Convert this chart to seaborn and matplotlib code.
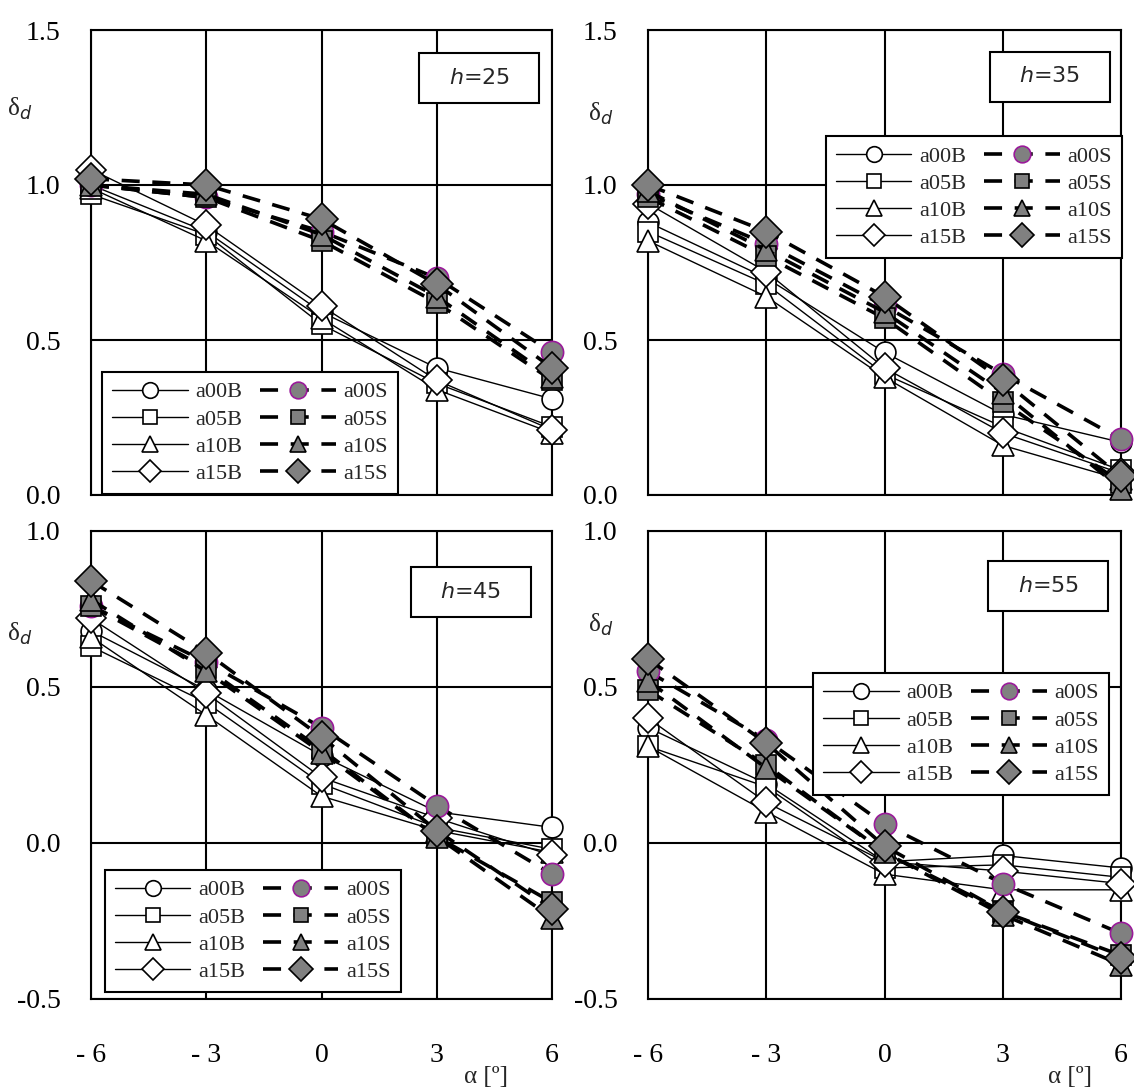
import matplotlib
matplotlib.use("Agg")
import matplotlib.pyplot as plt
from matplotlib.patches import Rectangle
from matplotlib.ticker import FixedLocator, FixedFormatter
import seaborn as sns

# ---------------- data ----------------
ALPHA = [-6, -3, 0, 3, 6]
SERIES = ["a00B", "a05B", "a10B", "a15B", "a00S", "a05S", "a10S", "a15S"]

h25_a00B = [1.00, 0.85, 0.59, 0.41, 0.31]
h25_a05B = [0.97, 0.84, 0.55, 0.36, 0.22]
h25_a10B = [0.99, 0.82, 0.57, 0.34, 0.20]
h25_a15B = [1.05, 0.87, 0.61, 0.37, 0.21]
h25_a00S = [1.00, 0.96, 0.85, 0.70, 0.46]
h25_a05S = [1.00, 0.96, 0.82, 0.62, 0.37]
h25_a10S = [1.00, 0.97, 0.84, 0.64, 0.38]
h25_a15S = [1.02, 1.00, 0.89, 0.68, 0.41]

h35_a00B = [0.88, 0.70, 0.46, 0.26, 0.17]
h35_a05B = [0.85, 0.68, 0.39, 0.22, 0.08]
h35_a10B = [0.82, 0.64, 0.38, 0.16, 0.05]
h35_a15B = [0.94, 0.72, 0.41, 0.20, 0.07]
h35_a00S = [0.97, 0.81, 0.61, 0.39, 0.18]
h35_a05S = [0.96, 0.77, 0.57, 0.30, 0.04]
h35_a10S = [0.98, 0.79, 0.59, 0.33, 0.02]
h35_a15S = [1.00, 0.85, 0.64, 0.37, 0.06]

h45_a00B = [0.68, 0.49, 0.28, 0.10, 0.05]
h45_a05B = [0.63, 0.45, 0.19, 0.05, -0.02]
h45_a10B = [0.66, 0.41, 0.15, 0.04, -0.03]
h45_a15B = [0.72, 0.48, 0.21, 0.08, -0.04]
h45_a00S = [0.76, 0.58, 0.37, 0.12, -0.10]
h45_a05S = [0.76, 0.56, 0.30, 0.02, -0.19]
h45_a10S = [0.78, 0.55, 0.29, 0.02, -0.24]
h45_a15S = [0.84, 0.61, 0.34, 0.04, -0.21]

h55_a00B = [0.37, 0.19, -0.06, -0.04, -0.08]
h55_a05B = [0.31, 0.18, -0.08, -0.07, -0.11]
h55_a10B = [0.31, 0.10, -0.10, -0.15, -0.15]
h55_a15B = [0.40, 0.13, -0.06, -0.09, -0.13]
h55_a00S = [0.55, 0.33, 0.06, -0.13, -0.29]
h55_a05S = [0.49, 0.25, -0.03, -0.22, -0.36]
h55_a10S = [0.52, 0.24, -0.03, -0.23, -0.39]
h55_a15S = [0.59, 0.32, -0.01, -0.22, -0.37]

PANEL_TITLES = ["25", "35", "45", "55"]
PANEL_DATA = [
    [h25_a00B, h25_a05B, h25_a10B, h25_a15B, h25_a00S, h25_a05S, h25_a10S, h25_a15S],
    [h35_a00B, h35_a05B, h35_a10B, h35_a15B, h35_a00S, h35_a05S, h35_a10S, h35_a15S],
    [h45_a00B, h45_a05B, h45_a10B, h45_a15B, h45_a00S, h45_a05S, h45_a10S, h45_a15S],
    [h55_a00B, h55_a05B, h55_a10B, h55_a15B, h55_a00S, h55_a05S, h55_a10S, h55_a15S],
]
YTICKS_TOP = [0.0, 0.5, 1.0, 1.5]
YTICKLABELS_TOP = ["0.0", "0.5", "1.0", "1.5"]
YTICKS_BOTTOM = [-0.5, 0.0, 0.5, 1.0]
YTICKLABELS_BOTTOM = ["-0.5", "0.0", "0.5", "1.0"]
XTICKS = [-6, -3, 0, 3, 6]
XTICKLABELS = ["- 6", "- 3", "0", "3", "6"]
XLABEL = "α [º]"
YLABEL = "δ$_d$"

# ---------------- style ----------------
sns.set_theme(style="white")
plt.rcParams["font.family"] = ["Liberation Serif", "DejaVu Sans"]
plt.rcParams["mathtext.fontset"] = "dejavusans"

W, H = 1134, 1092
fig = plt.figure(figsize=(W / 100, H / 100), dpi=100)
fig.patch.set_facecolor("white")

# axes boxes in pixels: left, top, right, bottom
BOXES = [(91, 30, 552, 495), (648, 30, 1121, 495),
         (91, 531, 552, 999), (648, 531, 1121, 999)]
# legend anchors (axes coords, upper-left corner)
LEG_ANCHOR = [(0.024, 0.265), (0.376, 0.772), (0.030, 0.276), (0.349, 0.697)]
# h-box center (axes coords)
HBOX = [(0.842, 0.897), (0.850, 0.900), (0.824, 0.870), (0.846, 0.882)]
YLAB_POS = [(-0.155, 0.83), (-0.10, 0.82), (-0.155, 0.78), (-0.10, 0.80)]
XLAB_POS = [None, None, (0.857, -0.166), (0.892, -0.166)]

MARKERS = ["o", "s", "^", "D", "o", "s", "^", "D"]
MSIZES = [15, 14, 16, 15, 16, 14, 16, 16]
GRAY = "#808080"
PURPLE = "#9a1a9a"

for i, (l, t, r, b) in enumerate(BOXES):
    ax = fig.add_axes([l / W, 1 - b / H, (r - l) / W, (b - t) / H])
    ax.set_facecolor("white")
    for j, (name, vals) in enumerate(zip(SERIES, PANEL_DATA[i])):
        is_s = name.endswith("S")
        kw = dict(color="black", marker=MARKERS[j], markersize=MSIZES[j],
                  markeredgewidth=1.2, clip_on=False, errorbar=None)
        if is_s:
            kw.update(lw=2.6, linestyle=(0, (5, 3.5)), markerfacecolor=GRAY,
                      markeredgecolor=PURPLE if name == "a00S" else "black",
                      zorder=5 + j)
        else:
            kw.update(lw=1.0, linestyle="-", markerfacecolor="white",
                      markeredgecolor="black", zorder=3 + j)
        sns.lineplot(x=ALPHA, y=vals, ax=ax, label=name, legend=False, **kw)
    lines = ax.get_lines()
    ax.set_xlim(-6, 6)
    top = i < 2
    if top:
        ax.set_ylim(0.0, 1.5)
        ax.yaxis.set_major_locator(FixedLocator(YTICKS_TOP))
        ax.yaxis.set_major_formatter(FixedFormatter(YTICKLABELS_TOP))
    else:
        ax.set_ylim(-0.5, 1.0)
        ax.yaxis.set_major_locator(FixedLocator(YTICKS_BOTTOM))
        ax.yaxis.set_major_formatter(FixedFormatter(YTICKLABELS_BOTTOM))
    ax.xaxis.set_major_locator(FixedLocator(XTICKS))
    ax.xaxis.set_major_formatter(FixedFormatter(XTICKLABELS))
    ax.grid(True, color="black", lw=1.5)
    ax.set_axisbelow(True)
    for sp in ax.spines.values():
        sp.set_visible(True)
        sp.set_color("black")
        sp.set_linewidth(1.5)
    ax.tick_params(axis="both", length=0, labelsize=20, colors="black")
    ax.tick_params(axis="y", pad=22)
    ax.tick_params(axis="x", pad=32)
    if top:
        ax.tick_params(axis="x", labelbottom=False)
    ax.set_xlabel("")
    ax.set_ylabel("")

    # y label
    ax.text(YLAB_POS[i][0], YLAB_POS[i][1], YLABEL, transform=ax.transAxes,
            fontsize=18, ha="center", va="center")
    if XLAB_POS[i] is not None:
        ax.text(XLAB_POS[i][0], XLAB_POS[i][1], XLABEL, transform=ax.transAxes,
                fontsize=18, ha="center", va="center")

    # h box
    bw = 120 / (r - l)
    bh = 50 / (b - t)
    cx, cy = HBOX[i]
    ax.add_patch(Rectangle((cx - bw / 2, cy - bh / 2), bw, bh, transform=ax.transAxes,
                           facecolor="white", edgecolor="black", lw=1.5, zorder=20))
    ax.text(cx, cy, "$h$=" + PANEL_TITLES[i], transform=ax.transAxes,
            fontsize=16, ha="center", va="center", zorder=21,
            family="DejaVu Sans")

    leg = ax.legend(lines, SERIES, ncol=2, loc="upper left",
                    bbox_to_anchor=LEG_ANCHOR[i], bbox_transform=ax.transAxes,
                    fontsize=16, handlelength=3.4, handletextpad=0.35,
                    columnspacing=0.8, labelspacing=0.3, borderpad=0.45,
                    frameon=True, fancybox=False, framealpha=1,
                    edgecolor="black", markerscale=0.75, borderaxespad=0)
    leg.get_frame().set_linewidth(1.5)
    leg.set_zorder(30)

fig.savefig("out.png", dpi=100, facecolor="white")
